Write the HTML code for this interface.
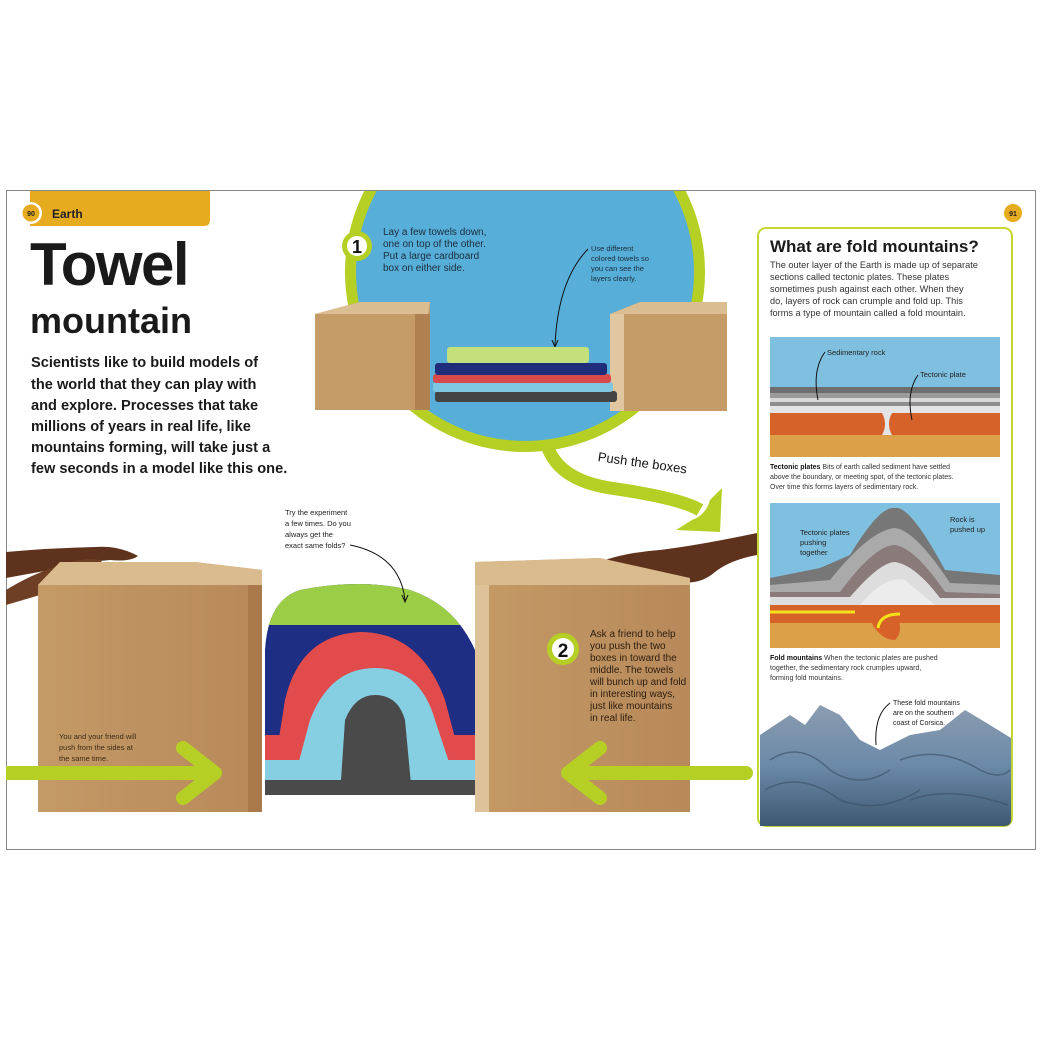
<!DOCTYPE html>
<html><head><meta charset="utf-8"><style>
html,body{margin:0;padding:0;background:#fff;width:1040px;height:1040px;overflow:hidden}
svg{display:block}
text{font-family:"Liberation Sans",sans-serif}
</style></head><body>
<svg width="1040" height="1040" viewBox="0 0 1040 1040" xmlns="http://www.w3.org/2000/svg">
<defs>
<linearGradient id="box" x1="0" x2="1"><stop offset="0" stop-color="#c49a66"/><stop offset="1" stop-color="#b8895a"/></linearGradient>
<linearGradient id="rock" x1="0" y1="0" x2="0" y2="1"><stop offset="0" stop-color="#8c9cb0"/><stop offset="0.5" stop-color="#6a8aa8"/><stop offset="1" stop-color="#3e5872"/></linearGradient>
<clipPath id="circ"><rect x="0" y="191" width="1040" height="700"/></clipPath>
<clipPath id="mt"><path d="M265 795 L265 650 Q268 600 300 590 Q360 578 410 590 Q455 605 475 650 L475 795 Z"/></clipPath>
</defs>
<rect x="6.5" y="190.5" width="1029" height="659" fill="#fff" stroke="#888" stroke-width="1"/>

<path d="M30 191 H210 V220 Q210 226 204 226 H30 Z" fill="#e6ab1e"/>
<circle cx="31" cy="213" r="11" fill="#fff"/>
<circle cx="31" cy="213" r="8.5" fill="#e6ab1e"/>
<text x="31" y="216" font-size="7" font-weight="bold" text-anchor="middle" fill="#222">90</text>
<text x="52" y="218" font-size="12" font-weight="bold" fill="#222">Earth</text>

<text x="30" y="285" font-size="60" font-weight="bold" fill="#1a1a1a" letter-spacing="-1.5">Towel</text>
<text x="30" y="333" font-size="36" font-weight="bold" fill="#1a1a1a">mountain</text>
<g font-size="14.6" font-weight="bold" fill="#1a1a1a">
<text x="31" y="367">Scientists like to build models of</text>
<text x="31" y="389">the world that they can play with</text>
<text x="31" y="410">and explore. Processes that take</text>
<text x="31" y="431">millions of years in real life, like</text>
<text x="31" y="452">mountains forming, will take just a</text>
<text x="31" y="473">few seconds in a model like this one.</text>
</g>

<g clip-path="url(#circ)">
<circle cx="525" cy="272" r="180" fill="#b5cf24"/>
<circle cx="525" cy="272" r="169" fill="#57afd9"/>
</g>
<path d="M548 448 Q560 480 610 488 Q680 498 700 510" fill="none" stroke="#b5cf24" stroke-width="13"/>
<path d="M676 530 L720 532 L722 488 L710 500 Q706 515 692 520 Z" fill="#b5cf24"/>
<text x="597" y="467" font-size="13" fill="#111" transform="rotate(8 640 467)">Push the boxes</text>

<circle cx="357" cy="246" r="15" fill="#b5cf24"/>
<circle cx="357" cy="246" r="10" fill="#fff"/>
<text x="357" y="253" font-size="18" font-weight="bold" text-anchor="middle" fill="#111">1</text>
<g font-size="10" fill="#1c2b3a">
<text x="383" y="235">Lay a few towels down,</text>
<text x="383" y="247">one on top of the other.</text>
<text x="383" y="259">Put a large cardboard</text>
<text x="383" y="271">box on either side.</text>
</g>
<g font-size="7.5" fill="#1c2b3a">
<text x="591" y="251">Use different</text>
<text x="591" y="261">colored towels so</text>
<text x="591" y="271">you can see the</text>
<text x="591" y="281">layers clearly.</text>
</g>
<path d="M588 249 Q558 280 555 345" fill="none" stroke="#111" stroke-width="1"/>
<path d="M552 340 L555 347 L558 340" fill="none" stroke="#111" stroke-width="1"/>

<polygon points="315,314 360,302 430,302 430,410 315,410" fill="#c59c68"/>
<polygon points="315,314 428,314 430,302 360,302" fill="#dbbd92"/>
<rect x="415" y="314" width="15" height="96" fill="#b08050"/>
<polygon points="610,314 640,302 727,302 727,411 610,411" fill="#c59c68"/>
<polygon points="610,314 727,314 727,302 640,302" fill="#dbbd92"/>
<rect x="610" y="314" width="14" height="97" fill="#e1c7a0"/>
<rect x="435" y="391" width="182" height="11" rx="3" fill="#444"/>
<rect x="433" y="382" width="180" height="10" rx="3" fill="#7fc6e0"/>
<rect x="433" y="374" width="178" height="9" rx="3" fill="#d94b4b"/>
<rect x="435" y="363" width="172" height="12" rx="3" fill="#1f2d7a"/>
<rect x="447" y="347" width="142" height="16" rx="3" fill="#c4e07a"/>

<!-- hands -->
<path d="M6 552 Q50 548 95 547 Q118 545 138 556 Q130 562 110 560 L90 562 Q70 565 50 570 L6 578 Z" fill="#5e321c"/>
<path d="M6 590 Q30 575 60 565 Q85 557 100 560 Q108 568 104 578 L80 578 Q60 585 40 595 L6 605 Z" fill="#6e3f24"/>
<path d="M605 560 Q630 552 660 550 Q700 545 757 533 L757 555 Q730 560 715 572 Q700 585 680 582 Q650 580 620 575 Z" fill="#5e321c"/>

<polygon points="38,585 60,562 195,562 262,570 262,812 38,812" fill="url(#box)"/>
<polygon points="38,585 262,585 262,570 195,562 60,562" fill="#d9bb8e"/>
<rect x="248" y="585" width="14" height="227" fill="#a9794c"/>
<polygon points="475,585 475,562 600,558 690,585 690,812 475,812" fill="url(#box)"/>
<polygon points="475,585 690,585 690,578 600,558 475,562" fill="#d9bb8e"/>
<rect x="475" y="585" width="14" height="227" fill="#ddc29a"/>

<!-- towel mountain -->
<g clip-path="url(#mt)">
<rect x="265" y="580" width="210" height="215" fill="#1f2e85"/>
<rect x="265" y="580" width="210" height="45" fill="#9ccd46"/>
<path d="M265 660 Q268 610 300 605 Q360 600 410 608 Q450 620 475 650 L475 700 Q460 640 420 630 Q370 615 320 625 Q290 635 280 680 L265 690 Z" fill="#9ccd46" opacity="0"/>
<path d="M270 795 L285 700 Q300 635 360 632 Q420 632 445 700 L470 795 Z" fill="#e14b4b"/>
<rect x="265" y="735" width="210" height="60" fill="#e14b4b"/>
<path d="M290 795 L310 720 Q330 668 375 668 Q420 668 435 720 L460 795 Z" fill="#86cfe3"/>
<rect x="265" y="760" width="210" height="35" fill="#86cfe3"/>
<path d="M340 795 L345 720 Q355 695 375 695 Q398 695 405 720 L412 795 Z" fill="#4a4a4a"/>
<rect x="265" y="780" width="210" height="15" fill="#4a4a4a"/>
</g>
<text x="285" y="515" font-size="7.5" fill="#222">Try the experiment</text>
<text x="285" y="526" font-size="7.5" fill="#222">a few times. Do you</text>
<text x="285" y="537" font-size="7.5" fill="#222">always get the</text>
<text x="285" y="548" font-size="7.5" fill="#222">exact same folds?</text>
<path d="M350 545 Q400 555 405 600" fill="none" stroke="#111" stroke-width="1"/>
<path d="M402 595 L405 602 L408 595" fill="none" stroke="#111" stroke-width="1"/>

<g font-size="7.5" fill="#3b2a18">
<text x="59" y="739">You and your friend will</text>
<text x="59" y="750">push from the sides at</text>
<text x="59" y="761">the same time.</text>
</g>
<circle cx="563" cy="649" r="16" fill="#b5cf24"/>
<circle cx="563" cy="649" r="11" fill="#fff"/>
<text x="563" y="657" font-size="19" font-weight="bold" text-anchor="middle" fill="#111">2</text>
<g font-size="10" fill="#2a1d10">
<text x="590" y="637">Ask a friend to help</text>
<text x="590" y="649">you push the two</text>
<text x="590" y="661">boxes in toward the</text>
<text x="590" y="673">middle. The towels</text>
<text x="590" y="685">will bunch up and fold</text>
<text x="590" y="697">in interesting ways,</text>
<text x="590" y="709">just like mountains</text>
<text x="590" y="721">in real life.</text>
</g>
<path d="M6 773 H212" stroke="#b5cf24" stroke-width="14"/>
<path d="M183 748 L215 773 L183 798" fill="none" stroke="#b5cf24" stroke-width="14" stroke-linecap="round" stroke-linejoin="round"/>
<path d="M572 773 H746" stroke="#b5cf24" stroke-width="14" stroke-linecap="round"/>
<path d="M600 748 L568 773 L600 798" fill="none" stroke="#b5cf24" stroke-width="14" stroke-linecap="round" stroke-linejoin="round"/>

<circle cx="1013" cy="213" r="9" fill="#e6ab1e"/>
<text x="1013" y="216" font-size="7" font-weight="bold" text-anchor="middle" fill="#222">91</text>
<rect x="758" y="228" width="254" height="598" rx="8" fill="#fff" stroke="#c3d631" stroke-width="2"/>
<text x="770" y="252" font-size="17" font-weight="bold" fill="#1a1a1a">What are fold mountains?</text>
<g font-size="9.2" fill="#333">
<text x="770" y="268">The outer layer of the Earth is made up of separate</text>
<text x="770" y="280">sections called tectonic plates. These plates</text>
<text x="770" y="292">sometimes push against each other. When they</text>
<text x="770" y="304">do, layers of rock can crumple and fold up. This</text>
<text x="770" y="316">forms a type of mountain called a fold mountain.</text>
</g>
<rect x="770" y="337" width="230" height="120" fill="#7fc0e0"/>
<rect x="770" y="387" width="230" height="6" fill="#6e6e6e"/>
<rect x="770" y="393" width="230" height="5" fill="#9a9a9a"/>
<rect x="770" y="398" width="230" height="4" fill="#d8d8d8"/>
<rect x="770" y="402" width="230" height="4" fill="#8e8e8e"/>
<rect x="770" y="406" width="230" height="7" fill="#e4e4e4"/>
<rect x="770" y="413" width="230" height="22" fill="#d6622a"/>
<rect x="770" y="435" width="230" height="22" fill="#dca048"/>
<path d="M882 413 Q888 424 882 435 L892 435 Q886 424 892 413 Z" fill="#e4e4e4"/>
<text x="827" y="355" font-size="7.5" fill="#222">Sedimentary rock</text>
<text x="920" y="377" font-size="7.5" fill="#222">Tectonic plate</text>
<path d="M825 352 Q812 370 818 400" fill="none" stroke="#111" stroke-width="1"/>
<path d="M918 375 Q906 392 912 420" fill="none" stroke="#111" stroke-width="1"/>
<g font-size="7" fill="#333">
<text x="770" y="469"><tspan font-weight="bold" fill="#111">Tectonic plates</tspan>  Bits of earth called sediment have settled</text>
<text x="770" y="479">above the boundary, or meeting spot, of the tectonic plates.</text>
<text x="770" y="489">Over time this forms layers of sedimentary rock.</text>
</g>
<rect x="770" y="503" width="230" height="145" fill="#7fc0e0"/>
<path d="M770 578 L820 568 L850 555 Q880 505 895 508 Q910 505 945 570 L1000 575 L1000 600 L770 600 Z" fill="#777"/>
<path d="M770 585 L830 580 Q870 530 895 528 Q915 530 950 583 L1000 585 L1000 600 L770 600 Z" fill="#aaa"/>
<path d="M770 592 L840 592 Q875 545 895 545 Q915 548 945 592 L1000 594 L1000 600 L770 600 Z" fill="#8a7a7a"/>
<path d="M770 597 L850 597 Q880 562 895 562 Q915 565 940 598 L1000 598 L1000 605 L770 605 Z" fill="#ddd"/>
<path d="M860 605 Q885 575 905 580 L935 605 Z" fill="#ececec"/>
<rect x="770" y="605" width="230" height="18" fill="#d6622a"/>
<rect x="770" y="623" width="230" height="25" fill="#dca048"/>
<path d="M870 620 Q880 640 895 640 Q905 630 895 612 Z" fill="#d6622a"/>
<path d="M770 612 L855 612" stroke="#f5e21a" stroke-width="3"/>
<path d="M900 614 Q880 614 878 628" stroke="#f5e21a" stroke-width="3" fill="none"/>
<text x="800" y="535" font-size="7.5" fill="#222">Tectonic plates</text>
<text x="800" y="545" font-size="7.5" fill="#222">pushing</text>
<text x="800" y="555" font-size="7.5" fill="#222">together</text>
<text x="950" y="522" font-size="7.5" fill="#222">Rock is</text>
<text x="950" y="532" font-size="7.5" fill="#222">pushed up</text>
<g font-size="7" fill="#333">
<text x="770" y="660"><tspan font-weight="bold" fill="#111">Fold mountains</tspan>  When the tectonic plates are pushed</text>
<text x="770" y="670">together, the sedimentary rock crumples upward,</text>
<text x="770" y="680">forming fold mountains.</text>
</g>
<path d="M760 826 L760 735 Q775 725 790 715 L805 725 L820 705 L840 715 L860 740 L880 750 L910 735 L940 730 L965 710 L985 722 L1011 738 L1011 820 Q1011 826 1004 826 Z" fill="url(#rock)"/>
<g stroke="#3b4f66" stroke-width="1.5" fill="none" opacity="0.6">
<path d="M770 760 Q800 740 830 770 Q860 790 890 770"/>
<path d="M765 790 Q800 770 840 800 Q880 815 920 790"/>
<path d="M900 760 Q940 745 980 770 Q1000 780 1010 770"/>
<path d="M910 800 Q950 785 1008 805"/>
</g>
<text x="893" y="705" font-size="7" fill="#222">These fold mountains</text>
<text x="893" y="715" font-size="7" fill="#222">are on the southern</text>
<text x="893" y="725" font-size="7" fill="#222">coast of Corsica.</text>
<path d="M890 703 Q874 715 876 745" fill="none" stroke="#111" stroke-width="1"/>
</svg>
</body></html>
